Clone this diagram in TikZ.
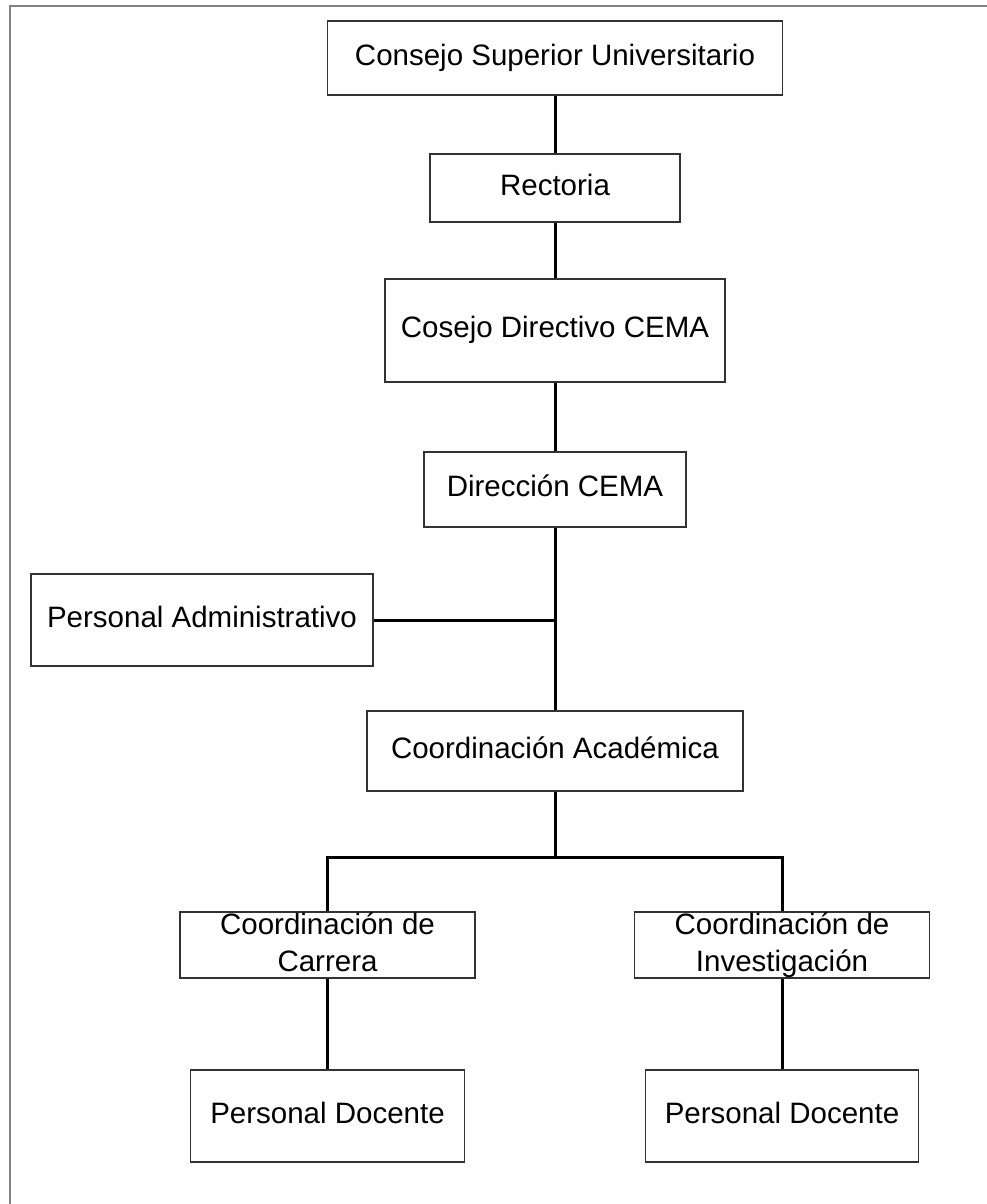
\documentclass[tikz,border=0pt]{standalone}
\usepackage{fontspec}
\setmainfont{Liberation Sans}
\usepackage{tikz}
\usetikzlibrary{calc}
\definecolor{framegray}{RGB}{130,130,130}
\definecolor{boxline}{RGB}{50,50,50}

\begin{document}
\begin{tikzpicture}[x=1pt,y=-1pt]
    \tikzset{every node/.style={font=\fontsize{29.5}{37}\selectfont}}
    \tikzset{unit/.style={draw=boxline,line width=1.6pt,inner sep=0pt,text height=22pt,text depth=7.4pt}}
    \tikzset{twoline/.style={draw=boxline,line width=1.6pt,inner sep=0pt,align=center,text depth=6pt}}
    \tikzset{conn/.style={line width=3pt}}
    \useasboundingbox (0,0) rectangle (987,1204);
    \draw[framegray,line width=2pt] (9.5,1204) -- (9.5,6.5) -- (987,6.5);
    % central column
    \node[unit,minimum width=455,minimum height=74] (csu) at (555,58) {Consejo Superior Universitario};
    \node[unit,minimum width=250,minimum height=68] (rect) at (555,188) {Rectoria};
    \node[unit,minimum width=340,minimum height=103] (cdir) at (555,330.5) {Cosejo Directivo CEMA};
    \node[unit,minimum width=262,minimum height=75] (dir) at (555,489.5) {Dirección CEMA};
    \node[unit,minimum width=342,minimum height=92] (padm) at (202,620) {Personal Administrativo};
    \node[unit,minimum width=376,minimum height=80] (coac) at (555,751) {Coordinación Académica};
    % lower branches
    \node[twoline,minimum width=295,minimum height=66] (ccar) at (327.5,945) {Coordinación de\\Carrera};
    \node[twoline,minimum width=295,minimum height=66] (cinv) at (782,945) {Coordinación de\\Investigación};
    \node[unit,minimum width=274,minimum height=92] (pdoca) at (327.5,1116) {Personal Docente};
    \node[unit,minimum width=273,minimum height=92] (pdocb) at (782,1116) {Personal Docente};
    \coordinate (split) at (555,857);
    \draw[conn] (csu.south) -- (rect.north);
    \draw[conn] (rect.south) -- (cdir.north);
    \draw[conn] (cdir.south) -- (dir.north);
    \draw[conn] (dir.south) -- (coac.north);
    \draw[conn] (padm.east) -- (padm.east -| dir.south);
    \draw[conn] (coac.south) -- (split);
    \draw[conn] (ccar.north) |- (split) -| (cinv.north);
    \draw[conn] (ccar.south) -- (pdoca.north);
    \draw[conn] (cinv.south) -- (pdocb.north);
\end{tikzpicture}
\end{document}
